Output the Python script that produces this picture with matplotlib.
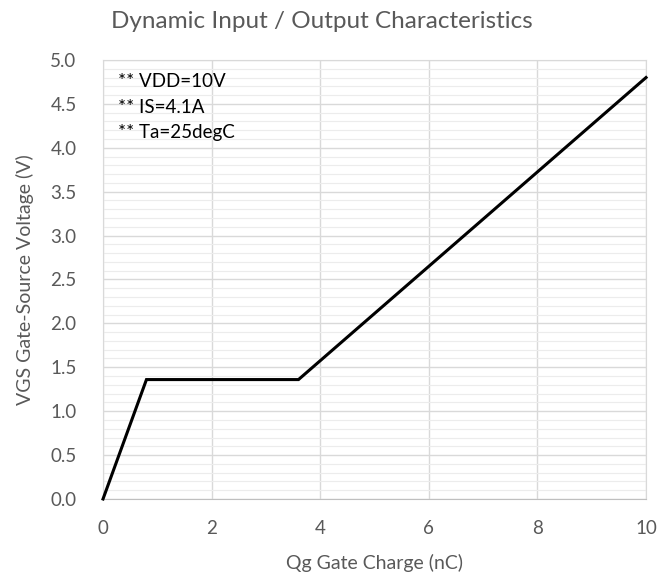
import matplotlib
matplotlib.use("Agg")
import matplotlib.pyplot as plt
from matplotlib.ticker import MultipleLocator

# gate charge curve (nC, V)
qg = [0, 0.8, 3.6, 10]
vgs = [0, 1.36, 1.36, 4.8]

notes = ["** VDD=10V", "** IS=4.1A", "** Ta=25degC"]

plt.rcParams['font.family'] = ['Lato', 'DejaVu Sans']
gray = '#595959'

fig = plt.figure(figsize=(6.57, 5.74), dpi=100)
ax = fig.add_axes([0.1568, 0.1307, 0.8265, 0.7648])

ax.plot(qg, vgs, color='black', lw=2.2, solid_joinstyle='miter', zorder=3, clip_on=False)

ax.set_xlim(0, 10)
ax.set_ylim(0, 5)
ax.xaxis.set_major_locator(MultipleLocator(2))
ax.yaxis.set_major_locator(MultipleLocator(0.5))
ax.yaxis.set_minor_locator(MultipleLocator(0.1))
ax.yaxis.set_major_formatter(matplotlib.ticker.FormatStrFormatter('%.1f'))

ax.grid(which='major', color='#d9d9d9', lw=1.0)
ax.grid(which='minor', axis='y', color='#ececec', lw=0.8)
ax.set_axisbelow(True)

for s in ['top', 'right', 'left']:
    ax.spines[s].set_color('#d9d9d9')
ax.spines['bottom'].set_color('#bfbfbf')
ax.tick_params(which='both', length=0, colors=gray, labelsize=13.5)
ax.tick_params(axis='y', pad=19)
ax.tick_params(axis='x', pad=15)

ax.set_xlabel("Qg Gate Charge (nC)", color=gray, fontsize=14, labelpad=12)
ax.set_ylabel("VGS Gate-Source Voltage (V)", color=gray, fontsize=14, labelpad=12)
fig.text(0.49, 0.962, "Dynamic Input / Output Characteristics", color=gray,
         fontsize=17.5, ha='center', va='center')

for i, t in enumerate(notes):
    ax.text(0.028, 0.95 - i * 0.058, t, transform=ax.transAxes, fontsize=13.5,
            color='black', va='center')

fig.savefig("out.png", dpi=100)
